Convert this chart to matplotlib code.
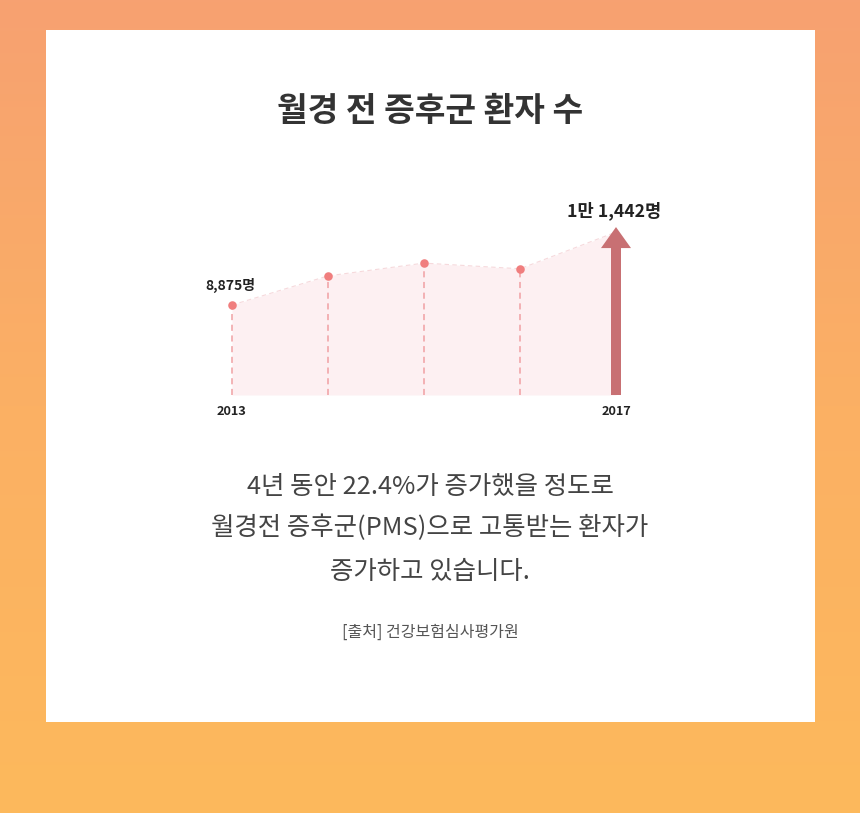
import numpy as np
import matplotlib
matplotlib.use("Agg")
import matplotlib.pyplot as plt
from matplotlib.patches import Rectangle, FancyArrow
from matplotlib.colors import LinearSegmentedColormap

plt.rcParams['font.family'] = ['Noto Sans CJK KR', 'DejaVu Sans']

# ---- data ----
years = ["2013", "2014", "2015", "2016", "2017"]
patients = [8875, 9900, 10350, 10150, 11442]
first_label = "8,875명"
last_label = "1만 1,442명"
title = "월경 전 증후군 환자 수"
body_lines = ["4년 동안 22.4%가 증가했을 정도로",
              "월경전 증후군(PMS)으로 고통받는 환자가",
              "증가하고 있습니다."]
source = "[출처] 건강보험심사평가원"

W, H = 860, 813
fig = plt.figure(figsize=(W / 100, H / 100), dpi=100)

# background gradient
bg = fig.add_axes([0, 0, 1, 1])
cmap = LinearSegmentedColormap.from_list("bg", ["#F7A171", "#FBB064", "#FDB95C"])
grad = np.linspace(0, 1, 256).reshape(-1, 1)
bg.imshow(grad, aspect="auto", cmap=cmap, extent=[0, W, H, 0])
bg.set_xlim(0, W)
bg.set_ylim(H, 0)
bg.axis("off")
bg.add_patch(Rectangle((46, 30), 769, 692, facecolor="white", edgecolor="none"))

bg.text(430, 112, title, ha="center", va="center", fontsize=24, fontweight="bold", color="#333333")
for i, line in enumerate(body_lines):
    bg.text(430, [487, 528, 572][i], line, ha="center", va="center", fontsize=18.3,
            color="#444444", fontweight="light")
bg.text(430, 632, source, ha="center", va="center", fontsize=11.5, color="#555555", fontweight="light")

# chart axes in pixel placement
ax_l, ax_r, ax_t, ax_b = 200, 660, 190, 430
ax = fig.add_axes([ax_l / W, 1 - ax_b / H, (ax_r - ax_l) / W, (ax_b - ax_t) / H])
ax.axis("off")
px_x = 96.0           # pixels per category step
px_y = 35.2           # value units per pixel
x0_px = 232
base_px = 395
y_at_305 = 8875
base_val = y_at_305 - (base_px - 305) * px_y
ax.set_xlim(-(x0_px - ax_l) / px_x, (ax_r - x0_px) / px_x)
ax.set_ylim(base_val - (ax_b - base_px) * px_y, base_val + (base_px - ax_t) * px_y)

xs = np.arange(len(years))
ax.fill_between(xs, base_val, patients, color="#FDF0F2", lw=0)
ax.plot(xs, patients, color="#F6D9DC", lw=0.8, ls=(0, (4, 3)))
for x, v in zip(xs[:-1], patients[:-1]):
    ax.plot([x, x], [base_val, v], color="#F0A0A3", lw=1.1, ls=(0, (4, 3)))
ax.scatter(xs[:-1], patients[:-1], s=38, color="#F07E7E", zorder=5, lw=0)

# arrow for 2017
head_len = 21 * px_y
tip = patients[-1] + 5 * px_y
arrow_w = 10 / px_x
head_w = 30 / px_x
ax.add_patch(FancyArrow(xs[-1], base_val, 0, tip - base_val, width=arrow_w,
                        head_width=head_w, head_length=head_len,
                        length_includes_head=True, color="#C87073", lw=0, zorder=6))

ax.text(xs[0] - 0.02, patients[0] + 20 * px_y, first_label, ha="center", va="center",
        fontsize=10, fontweight="bold", color="#222222")
ax.text(xs[-1] - 0.02, patients[-1] + 21 * px_y, last_label, ha="center", va="center",
        fontsize=12.7, fontweight="bold", color="#222222")
ax.text(xs[0], base_val - 16 * px_y, years[0], ha="center", va="center",
        fontsize=9.2, fontweight="bold", color="#222222")
ax.text(xs[-1], base_val - 16 * px_y, years[-1], ha="center", va="center",
        fontsize=9.2, fontweight="bold", color="#222222")

fig.savefig("out.png", dpi=100)
